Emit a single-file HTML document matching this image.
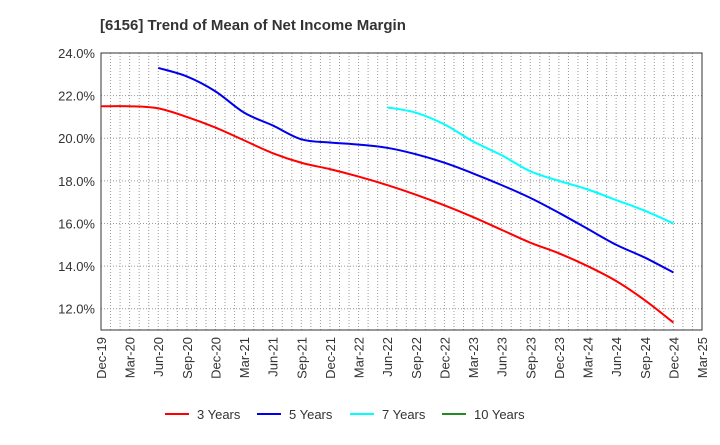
<!DOCTYPE html>
<html><head><meta charset="utf-8"><style>
body{margin:0;background:#fff;}
svg{font-family:"Liberation Sans",Arial,sans-serif;}
</style></head><body>
<svg id="chart" width="720" height="440">
<rect width="720" height="440" fill="#fff"/>
<text x="100" y="30" font-size="15" font-weight="bold" fill="#333">[6156]  Trend of Mean of Net Income Margin</text>
<g id="grid"></g><g id="axes"></g><g id="series"></g><g id="legend"></g>
</svg>
<script>
const categories=["Dec-19","Mar-20","Jun-20","Sep-20","Dec-20","Mar-21","Jun-21","Sep-21","Dec-21","Mar-22","Jun-22","Sep-22","Dec-22","Mar-23","Jun-23","Sep-23","Dec-23","Mar-24","Jun-24","Sep-24","Dec-24","Mar-25"];
const yTicks=[12,14,16,18,20,22,24];
const s3=[21.5,21.5,21.4,21.0,20.5,19.9,19.3,18.85,18.55,18.2,17.8,17.35,16.85,16.3,15.7,15.1,14.6,14.0,13.3,12.4,11.35];
const s5=[null,null,23.3,22.9,22.2,21.2,20.6,19.95,19.8,19.7,19.55,19.25,18.85,18.35,17.8,17.2,16.5,15.75,15.0,14.4,13.7];
const s7=[null,null,null,null,null,null,null,null,null,null,21.45,21.2,20.65,19.85,19.2,18.45,18.0,17.6,17.1,16.6,16.0];
const s10=[];
const seriesNames=["3 Years","5 Years","7 Years","10 Years"];
const seriesColors=["#ff0000","#0000ee","#00ffff","#228b22"];
const NS="http://www.w3.org/2000/svg";
const L=101,R=702,T=53,B=330,yMin=11,yMax=24;
const x=i=>L+(R-L)*i/(categories.length-1);
const y=v=>B-(B-T)*(v-yMin)/(yMax-yMin);
function mk(tag,attrs,parent){const e=document.createElementNS(NS,tag);for(const k in attrs)e.setAttribute(k,attrs[k]);parent.appendChild(e);return e;}
const grid=document.getElementById('grid'),axes=document.getElementById('axes'),ser=document.getElementById('series'),leg=document.getElementById('legend');
for(let m=1;m<(categories.length-1)*3;m++){const xx=L+(R-L)*m/((categories.length-1)*3);
 const g=mk('line',{x1:xx,x2:xx,y1:T,y2:B,stroke:'#999','stroke-dasharray':'1,2','stroke-width':1},grid);
 
 }
yTicks.forEach(v=>{const g=mk('line',{x1:L,x2:R,y1:y(v),y2:y(v),stroke:'#999','stroke-dasharray':'1,2'},grid);
 
 
 const t=mk('text',{x:L-6,y:y(v)+5,'text-anchor':'end','font-size':13,fill:'#333'},axes);t.textContent=v.toFixed(1)+'%';
 
 });
const box=mk('rect',{x:L,y:T,width:R-L,height:B-T,fill:'none',stroke:'#333','stroke-width':1},axes);


categories.forEach((c,i)=>{const t=mk('text',{x:0,y:0,'text-anchor':'end','font-size':13,fill:'#333',transform:`translate(${x(i)+5},337) rotate(-90)`},axes);t.textContent=c;
 
 });
function path(arr){const pts=[];arr.forEach((v,i)=>{if(v!=null)pts.push([x(i),y(v)]);});if(pts.length<2)return '';
 let d=`M${pts[0][0]},${pts[0][1]}`;
 for(let i=0;i<pts.length-1;i++){const p0=pts[Math.max(0,i-1)],p1=pts[i],p2=pts[i+1],p3=pts[Math.min(pts.length-1,i+2)];
  const c1=[p1[0]+(p2[0]-p0[0])/6,p1[1]+(p2[1]-p0[1])/6],c2=[p2[0]-(p3[0]-p1[0])/6,p2[1]-(p3[1]-p1[1])/6];
  d+=` C${c1[0]},${c1[1]} ${c2[0]},${c2[1]} ${p2[0]},${p2[1]}`;}
 return d;}
[s3,s5,s7,s10].forEach((s,k)=>{const d=path(s);if(!d)return;const p=mk('path',{d:d,fill:'none',stroke:seriesColors[k],'stroke-width':2},ser);
 
 });
const lx=[165,257,350,442];
seriesNames.forEach((n,k)=>{const g=mk('g',{},leg);
 
 
 mk('line',{x1:lx[k],x2:lx[k]+24,y1:414,y2:414,stroke:seriesColors[k],'stroke-width':2},g);
 const t=mk('text',{x:lx[k]+32,y:419,'font-size':13,fill:'#333'},g);t.textContent=n;});
</script>
</body></html>
